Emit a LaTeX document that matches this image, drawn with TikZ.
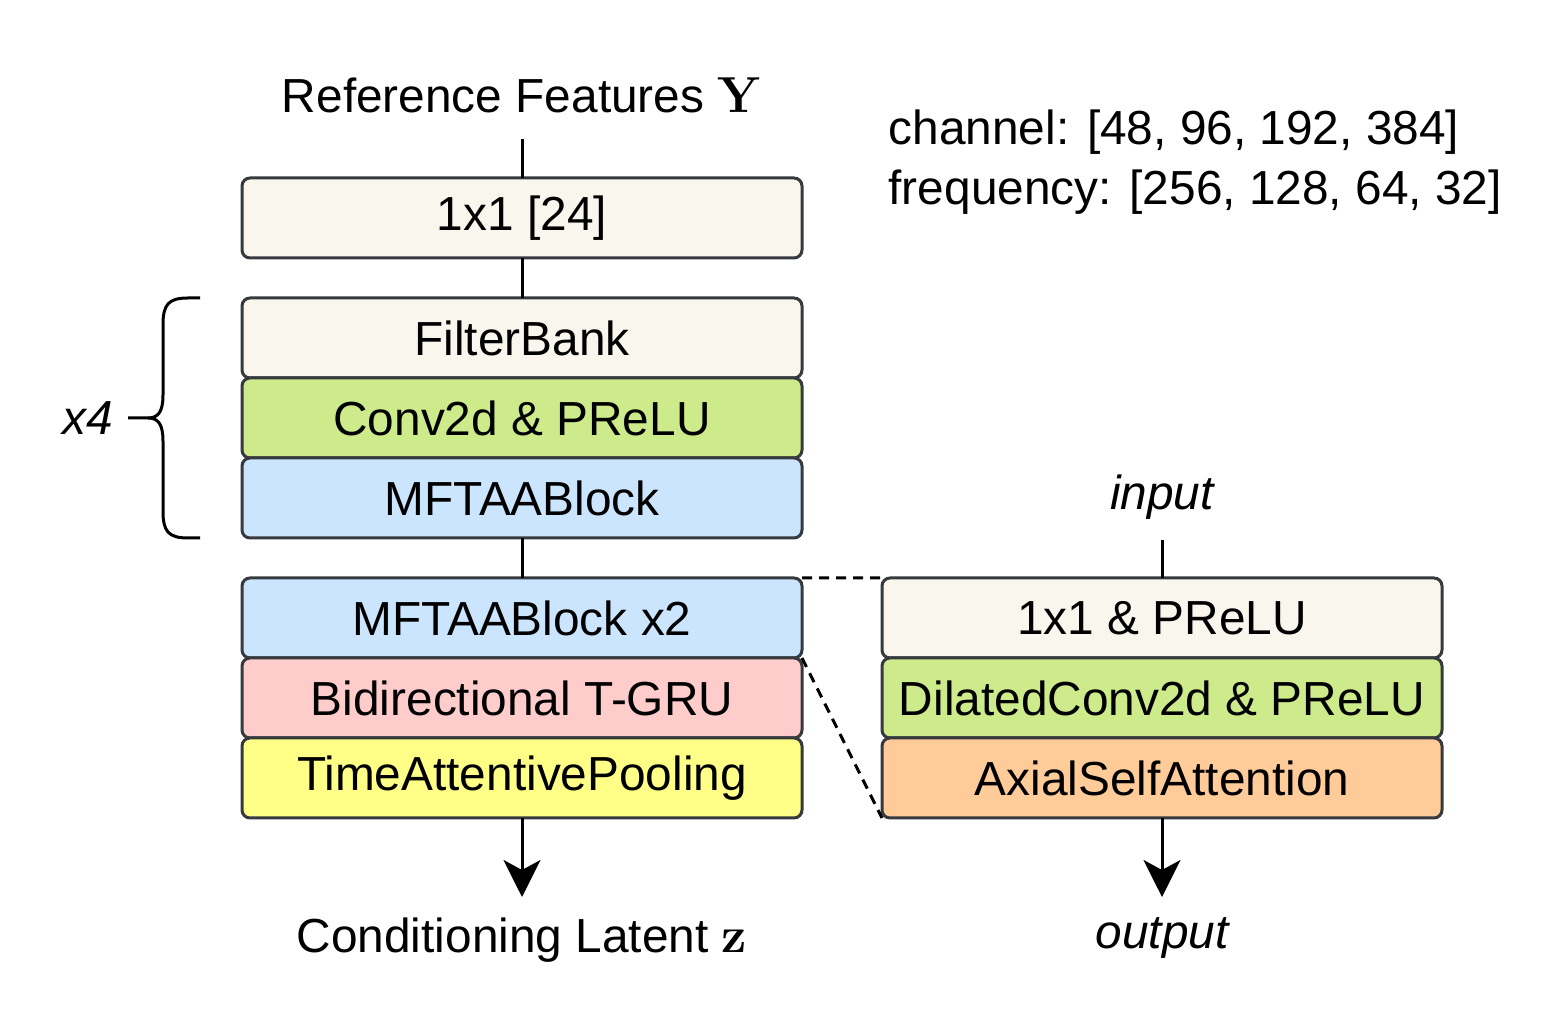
\documentclass[tikz,border=0pt]{standalone}
\usepackage[no-math]{fontspec}
\setmainfont{Liberation Sans}
\usepackage{xcolor}
\usepackage{tikz}
\usetikzlibrary{arrows.meta}
\usetikzlibrary{positioning}
\definecolor{edgegray}{HTML}{36393D}
\definecolor{creamfill}{HTML}{F9F7ED}
\definecolor{greenfill}{HTML}{CDEB8B}
\definecolor{bluefill}{HTML}{CCE5FF}
\definecolor{pinkfill}{HTML}{FFCCCC}
\definecolor{yellowfill}{HTML}{FFFF88}
\definecolor{orangefill}{HTML}{FFCC99}
\tikzset{
  blk/.style={draw=edgegray, line width=0.03cm, rounded corners=0.08cm,
    minimum width=5.6cm, minimum height=0.8cm, inner sep=0pt, outer sep=0pt},
  lbl/.style={inner sep=0.2cm},
  conn/.style={line width=0.03cm},
  arr/.style={conn, -{Stealth[length=0.37cm, width=0.37cm, inset=0.1cm]}},
  dsh/.style={conn, dash pattern=on 0.1cm off 0.07cm},
}

\begin{document}
\begin{tikzpicture}[font=\fontsize{13.6}{17}\selectfont]
    \useasboundingbox (0,0) rectangle (15.64,-10.2);
    % left column
    \node[lbl, inner ysep=0.26cm] (ref) at (5.22,-0.95) {Reference Features $\mathbf{Y}$};
    \node[blk, fill=creamfill, anchor=north] (b0) at (5.22,-1.78) {1x1 [24]};
    \node[blk, fill=creamfill, below=0.4cm of b0] (fb) {FilterBank};
    \node[blk, fill=greenfill, below=0cm of fb] (conv) {Conv2d \& PReLU};
    \node[blk, fill=bluefill, below=0cm of conv] (mf) {MFTAABlock};
    \node[blk, fill=bluefill, below=0.4cm of mf] (mfb) {MFTAABlock x2};
    \node[blk, fill=pinkfill, below=0cm of mfb] (gru) {Bidirectional T-GRU};
    \node[blk, fill=yellowfill, below=0cm of gru] (tap) {TimeAttentivePooling};
    \node[lbl, below=0.79cm of tap] (zlat) {Conditioning Latent $\mathbf{z}$};
    \draw[conn] (ref) -- (b0);
    \draw[conn] (b0) -- (fb);
    \draw[conn] (mf) -- (mfb);
    \draw[arr] (tap) -- (zlat);
    % repeat brace
    \draw[conn] (2.00,-2.98) -- (1.88,-2.98) .. controls (1.68,-2.98) and (1.63,-3.05) .. (1.63,-3.25)
      -- (1.63,-3.95) .. controls (1.63,-4.12) and (1.58,-4.18) .. (1.48,-4.18) -- (1.28,-4.18);
    \draw[conn] (2.00,-5.38) -- (1.88,-5.38) .. controls (1.68,-5.38) and (1.63,-5.31) .. (1.63,-5.11)
      -- (1.63,-4.41) .. controls (1.63,-4.24) and (1.58,-4.18) .. (1.48,-4.18);
    \node (rep) at (0.88,-4.18) {\itshape x4};
    % sizes
    \node[anchor=base west, inner sep=0pt] (chan) at (8.88,-1.45) {channel: [48, 96, 192, 384]};
    \node[anchor=base west, inner sep=0pt] (freq) at (8.88,-2.05) {frequency: [256, 128, 64, 32]};
    % right column
    \node[blk, fill=creamfill, anchor=north] (r1) at (11.62,-5.78) {1x1 \& PReLU};
    \node[blk, fill=greenfill, below=0cm of r1] (r2) {DilatedConv2d \& PReLU};
    \node[blk, fill=orangefill, below=0cm of r2] (r3) {AxialSelfAttention};
    \node[lbl, above=0.38cm of r1] (inp) {\itshape input};
    \node[lbl, below=0.79cm of r3] (outp) {\itshape output};
    \draw[conn] (inp) -- (r1);
    \draw[arr] (r3) -- (outp);
    % zoom lines
    \draw[dsh] (mfb.north east) -- (r1.north west);
    \draw[dsh] (mfb.south east) -- (r3.south west);
\end{tikzpicture}
\end{document}
